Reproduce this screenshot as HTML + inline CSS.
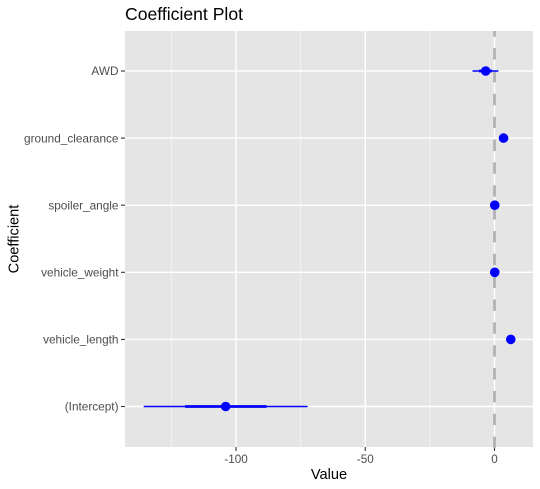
<!DOCTYPE html>
<html>
<head>
<meta charset="utf-8">
<style>
html,body{margin:0;padding:0;background:#fff;}
svg{display:block;font-family:"Liberation Sans",sans-serif;}
</style>
</head>
<body>
<svg id="chart" width="540" height="489" viewBox="0 0 540 489" xmlns="http://www.w3.org/2000/svg">
<rect x="0" y="0" width="540" height="489" fill="#fff"/>
<text x="125" y="20" font-size="17.6" fill="#000">Coefficient Plot</text>
<rect x="125" y="31" width="408" height="416" fill="#e5e5e5"/>
<g id="grid"></g>
<g id="axes"></g>
<line id="zero" stroke="#b3b3b3" stroke-width="2.8" stroke-dasharray="11.4 11.45"/>
<g id="marks"></g>
<text x="329" y="479" font-size="14.6" text-anchor="middle" fill="#000">Value</text>
<text transform="translate(18.5 239) rotate(-90)" font-size="14.6" text-anchor="middle" fill="#000">Coefficient</text>
</svg>
<script>
const categories = ["AWD", "ground_clearance", "spoiler_angle", "vehicle_weight", "vehicle_length", "(Intercept)"];
const estimates = [-3.4, 3.5, 0.1, 0.1, 6.3, -104];
const innerLow = [-6, 3.3, 0, 0, 6.1, -119.7];
const innerHigh = [-1, 3.7, 0.2, 0.2, 6.5, -88.2];
const outerLow = [-8.5, 3.1, -0.1, -0.1, 5.9, -135.7];
const outerHigh = [1.5, 3.9, 0.3, 0.3, 6.7, -72.3];
const majorTicks = [-100, -50, 0];
const minorTicks = [-125, -75, -25];
const tickLabels = ["-100", "-50", "0"];

const NS = "http://www.w3.org/2000/svg";
function xScale(v) { return 494.5 + v * 2.585; }
function yScale(i) { return 71 + i * 67.1; }
function add(parent, tag, attrs) {
  const el = document.createElementNS(NS, tag);
  for (const k in attrs) el.setAttribute(k, attrs[k]);
  parent.appendChild(el);
  return el;
}
const grid = document.getElementById("grid");
const axes = document.getElementById("axes");
const marks = document.getElementById("marks");

minorTicks.forEach(function (t) {
  const l = add(grid, "line", {x1: xScale(t), x2: xScale(t), y1: 31, y2: 447, stroke: "#f2f2f2", "stroke-width": 1});
  
  
});
majorTicks.forEach(function (t, i) {
  const x = xScale(t);
  const l = add(grid, "line", {x1: x, x2: x, y1: 31, y2: 447, stroke: "#fff", "stroke-width": 1.4});
  
  
  const tk = add(axes, "line", {x1: x, x2: x, y1: 447, y2: 451, stroke: "#333", "stroke-width": 1.1});
  
  
  const tx = add(axes, "text", {x: x, y: 463, "font-size": 11.7, "text-anchor": "middle", fill: "#4d4d4d"});
  
  
  tx.textContent = tickLabels[i];
});
categories.forEach(function (c, i) {
  const y = yScale(i);
  const l = add(grid, "line", {x1: 125, x2: 533, y1: y, y2: y, stroke: "#fff", "stroke-width": 1.4});
  
  
  const tk = add(axes, "line", {x1: 121, x2: 125, y1: y, y2: y, stroke: "#333", "stroke-width": 1.1});
  
  
  const tx = add(axes, "text", {x: 118.5, y: y + 4.2, "font-size": 11.8, "text-anchor": "end", fill: "#4d4d4d"});
  
  
  tx.textContent = c;

  const outer = add(marks, "line", {x1: xScale(outerLow[i]), x2: xScale(outerHigh[i]), y1: y, y2: y, stroke: "#0000ff", "stroke-width": 1.4});
  
  
  const inner = add(marks, "line", {x1: xScale(innerLow[i]), x2: xScale(innerHigh[i]), y1: y, y2: y, stroke: "#0000ff", "stroke-width": 2.8});
  
  
  const pt = add(marks, "circle", {cx: xScale(estimates[i]), cy: y, r: 4.8, fill: "#0000ff"});
  
  
});
const z = document.getElementById("zero");
z.setAttribute("x1", xScale(0));
z.setAttribute("x2", xScale(0));
z.setAttribute("y1", 448);
z.setAttribute("y2", 31);
</script>
</body>
</html>
